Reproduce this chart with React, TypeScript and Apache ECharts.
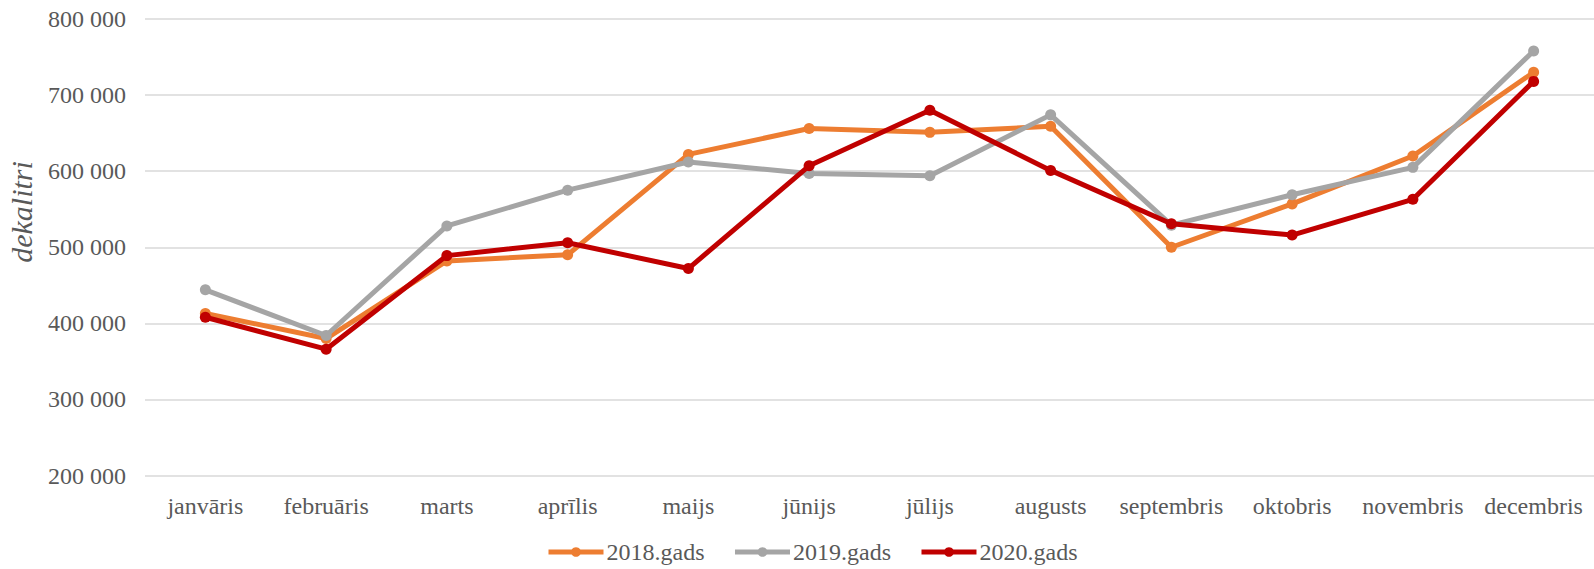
import React, { useEffect, useRef } from "react";
import * as echarts from "echarts";

const months = [
  "janvāris",
  "februāris",
  "marts",
  "aprīlis",
  "maijs",
  "jūnijs",
  "jūlijs",
  "augusts",
  "septembris",
  "oktobris",
  "novembris",
  "decembris",
];

const seriesNames = ["2018.gads", "2019.gads", "2020.gads"];
const values2018 = [413000, 380000, 482000, 490000, 622000, 656000, 651000, 659000, 500000, 557000, 620000, 730000];
const values2019 = [444000, 384000, 528000, 575000, 612000, 597000, 594000, 674000, 529000, 569000, 605000, 758000];
const values2020 = [408000, 366000, 489000, 506000, 472000, 607000, 680000, 601000, 531000, 516000, 563000, 718000];
const seriesColors = ["#ED7D31", "#A5A5A5", "#C00000"];

const yMin = 200000;
const yMax = 800000;
const yStep = 100000;
const yAxisTitle = "dekalitri";

const FONT = "'Liberation Serif', 'Times New Roman', serif";
const TEXT = "#595959";

function fmt(v: number): string {
  return String(Math.round(v)).replace(/\B(?=(\d{3})+(?!\d))/g, " ");
}

export default function App() {
  const ref = useRef<HTMLDivElement>(null);
  useEffect(() => {
    document.body.style.margin = "0";
    const chart = echarts.init(ref.current as HTMLDivElement, null, { renderer: "svg" });
    const allValues = [values2018, values2019, values2020];
    chart.setOption({
      animation: false,
      backgroundColor: "#ffffff",
      textStyle: { fontFamily: FONT, color: TEXT },
      grid: { left: 145, right: -9, top: 19, bottom: 93.5, containLabel: false },
      legend: {
        top: 540,
        left: 546,
        padding: 0,
        itemWidth: 55,
        itemHeight: 12,
        itemGap: 28,
        lineStyle: { width: 5 },
        textStyle: { fontFamily: FONT, fontSize: 24, color: TEXT, padding: [0, 0, 0, -2] },
        data: seriesNames,
      },
      graphic: [
        {
          type: "text",
          x: 21,
          y: 212,
          rotation: Math.PI / 2,
          style: {
            text: yAxisTitle,
            font: `italic 30px ${FONT}`,
            fill: TEXT,
            align: "center",
            verticalAlign: "middle",
          },
        },
      ],
      xAxis: {
        type: "category",
        data: months,
        boundaryGap: true,
        axisLine: { show: false },
        axisTick: { show: false },
        axisLabel: { interval: 0, fontSize: 24, color: TEXT, fontFamily: FONT, margin: 18 },
      },
      yAxis: {
        type: "value",
        min: yMin,
        max: yMax,
        interval: yStep,
        axisLine: { show: false },
        axisTick: { show: false },
        splitLine: { lineStyle: { color: "#D9D9D9", width: 1.5 } },
        axisLabel: {
          fontSize: 24,
          color: TEXT,
          fontFamily: FONT,
          margin: 19,
          formatter: (v: number) => fmt(v),
        },
      },
      series: seriesNames.map((name, i) => ({
        name,
        type: "line",
        data: allValues[i],
        symbol: "circle",
        symbolSize: 11,
        clip: false,
        lineStyle: { color: seriesColors[i], width: 5 },
        itemStyle: { color: seriesColors[i] },
        z: 2 + i,
      })),
    });
    return () => chart.dispose();
  }, []);
  return <div ref={ref} style={{ width: 1594, height: 569 }} />;
}
